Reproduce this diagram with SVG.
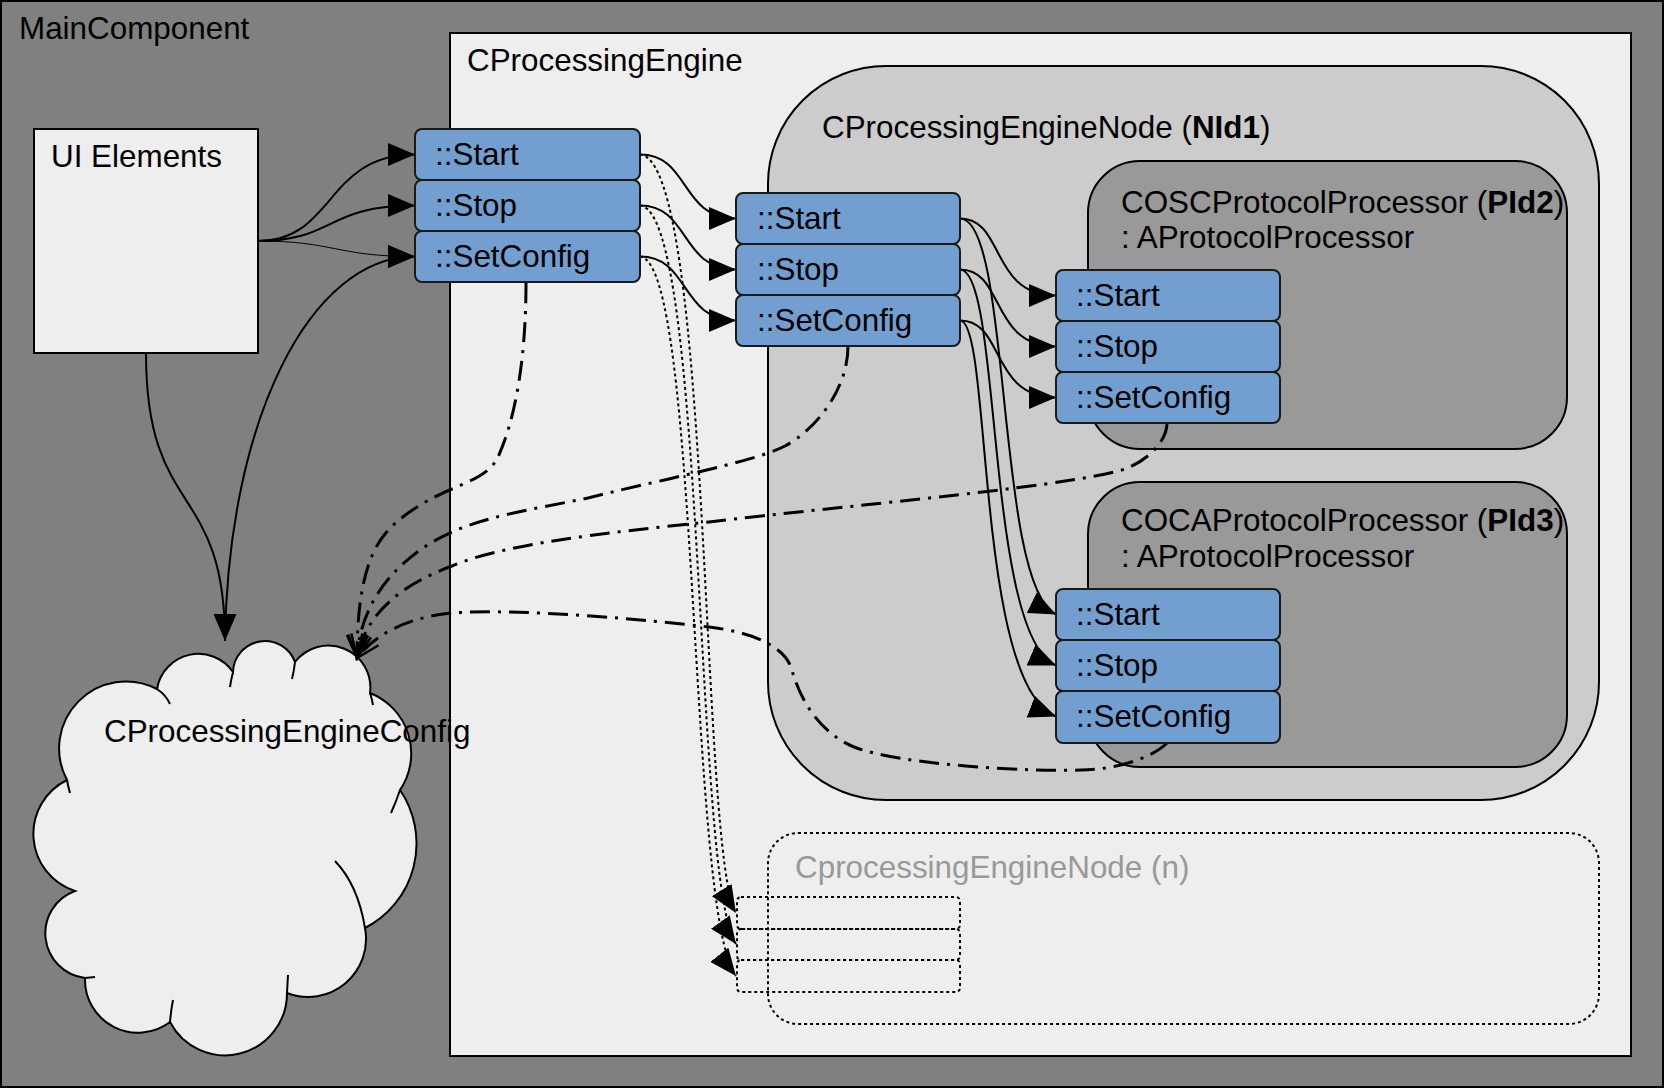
<svg xmlns="http://www.w3.org/2000/svg" width="1664" height="1089" viewBox="0 0 1664 1089">
<defs>
<style>
text { font-family: "Liberation Sans", Arial, sans-serif; font-size: 31.4px; fill: #000; }
.port { fill: #729fcf; stroke: #1a1a1a; stroke-width: 2; }
.box { stroke: #000; stroke-width: 2; }
.solid { fill: none; stroke: #000; stroke-width: 2; }
.thin { fill: none; stroke: #000; stroke-width: 1; }
.dotted { fill: none; stroke: #000; stroke-width: 2; stroke-dasharray: 3 3; }
.dashdot { fill: none; stroke: #000; stroke-width: 3; stroke-dasharray: 20 8 3 8; }
.dport { fill: none; stroke: #000; stroke-width: 2; stroke-dasharray: 3 3; }
</style>
<marker id="arr" markerUnits="userSpaceOnUse" markerWidth="27" markerHeight="23" refX="27" refY="11.5" orient="auto">
<path d="M0,0 L27,11.5 L0,23 Z" fill="#000"/>
</marker>
<marker id="open" markerUnits="userSpaceOnUse" markerWidth="30" markerHeight="24" refX="23" refY="10" orient="auto" overflow="visible">
<path d="M0,0 L23,10 L0,20" fill="none" stroke="#000" stroke-width="2.5"/>
</marker>
</defs>

<g id="MainComponent">
<rect x="1" y="1" width="1662" height="1086" fill="#808080" class="box"/>
<text x="19" y="39">MainComponent</text>
</g>

<g id="CProcessingEngine">
<rect x="450" y="33" width="1181" height="1023" fill="#eeeeee" class="box"/>
<text x="467" y="71">CProcessingEngine</text>
</g>

<g id="UIElements">
<rect x="34" y="129" width="224" height="224" fill="#eeeeee" class="box"/>
<text x="51" y="167">UI Elements</text>
</g>

<g id="CProcessingEngineConfig">
<path d="M67,780 A67,67 0 0 1 157,689 A42,42 0 0 1 233,672 A32,32 0 0 1 295,662 A42,42 0 0 1 370,693 A65,65 0 0 1 400,790 A95,95 0 0 1 365,928 A58,58 0 0 1 287,993 A62,62 0 0 1 170,1022 A53,53 0 0 1 85,978 A45,45 0 0 1 75,891 A60,60 0 0 1 67,780 Z" fill="#eeeeee" stroke="#000" stroke-width="2"/>
<path d="M157,689 Q166,695 170,704 M233,672 Q231,680 230,687 M295,662 Q294,671 292,679 M370,693 Q372,699 373,705 M400,790 Q396,802 391,813 M335,861 Q358,885 365,928 M288,975 L287,993 M170,1022 Q171,1010 173,1000 M85,978 L95,977 M70,793 Q68,786 67,780" fill="none" stroke="#000" stroke-width="2"/>
<text x="104" y="742">CProcessingEngineConfig</text>
</g>

<g id="NId1">
<rect x="768" y="66" width="831" height="734" rx="118" ry="118" fill="#cccccc" class="box"/>
<text x="822" y="138">CProcessingEngineNode (<tspan font-weight="bold">NId1</tspan>)</text>
</g>

<g id="PId2">
<rect x="1088" y="161" width="479" height="288" rx="52" ry="52" fill="#999999" class="box"/>
<text x="1121" y="213">COSCProtocolProcessor (<tspan font-weight="bold">PId2</tspan>)</text>
<text x="1121" y="248">: AProtocolProcessor</text>
</g>

<g id="PId3">
<rect x="1088" y="482" width="479" height="285" rx="52" ry="52" fill="#999999" class="box"/>
<text x="1121" y="531">COCAProtocolProcessor (<tspan font-weight="bold">PId3</tspan>)</text>
<text x="1121" y="567">: AProtocolProcessor</text>
</g>

<g id="NodeN">
<rect x="768" y="833" width="831" height="191" rx="30" ry="30" class="dport"/>
<text x="795" y="878" style="fill:#999999">CprocessingEngineNode (n)</text>
<rect x="737" y="897" width="223" height="32" rx="4" class="dport"/>
<rect x="737" y="929" width="223" height="31" rx="4" class="dport"/>
<rect x="737" y="960" width="223" height="32" rx="4" class="dport"/>
</g>

<g id="connectors">
<path class="solid" d="M258,241 C335,241 325,154.5 415,154.5" marker-end="url(#arr)"/>
<path class="solid" d="M258,241 C335,241 325,205.5 415,205.5" marker-end="url(#arr)"/>
<path class="thin" d="M258,241 C335,241 335,256.5 415,256.5" marker-end="url(#arr)"/>
<path class="solid" d="M146,353 C146,520 225,480 225,641" marker-end="url(#arr)"/>
<path class="solid" d="M225,641 C228,420 310,256.5 415,256.5" marker-end="url(#arr)"/>

<path class="solid" d="M640,154.5 C690,154.5 680,218.5 736,218.5" marker-end="url(#arr)"/>
<path class="solid" d="M640,205.5 C690,205.5 680,269.5 736,269.5" marker-end="url(#arr)"/>
<path class="solid" d="M640,256.5 C690,256.5 680,320.5 736,320.5" marker-end="url(#arr)"/>

<path class="solid" d="M960,218.5 C1005,218.5 990,295.5 1056,295.5" marker-end="url(#arr)"/>
<path class="solid" d="M960,269.5 C1005,269.5 990,346.5 1056,346.5" marker-end="url(#arr)"/>
<path class="solid" d="M960,320.5 C1005,320.5 990,397.5 1056,397.5" marker-end="url(#arr)"/>

<path class="solid" d="M960,218.5 C1012,218.5 995,585 1056,614.5" marker-end="url(#arr)"/>
<path class="solid" d="M960,269.5 C1002,269.5 985,635 1056,665.5" marker-end="url(#arr)"/>
<path class="solid" d="M960,320.5 C992,320.5 975,685 1056,716.5" marker-end="url(#arr)"/>

<path class="dotted" d="M640,154.5 C712,160 700,855 736,913" marker-end="url(#arr)"/>
<path class="dotted" d="M640,205.5 C706,210 694,885 736,944" marker-end="url(#arr)"/>
<path class="dotted" d="M640,256.5 C700,262 688,915 736,976" marker-end="url(#arr)"/>

<path class="dashdot" d="M526,283 C526,360 515,420 498,457 C490,474 470,481 452,489 C430,498 400,515 385,534 C365,558 357,600 357,658" marker-end="url(#open)"/>
<path class="dashdot" d="M848,346 C848,390 815,430 785,446 C755,462 650,482 588,498 C540,508 490,515 452,532 C400,555 360,600 357,658" marker-end="url(#open)"/>
<path class="dashdot" d="M1167,423 C1167,440 1150,458 1130,467 C1090,485 850,505 709,522 C600,533 500,545 452,566 C400,585 365,615 357,658" marker-end="url(#open)"/>
<path class="dashdot" d="M1167,743 C1150,760 1110,770 1081,770 C1030,772 900,765 854,747 C820,733 800,700 792,670 C785,645 750,632 709,627 C650,620 520,608 452,613 C400,618 370,640 357,658" marker-end="url(#open)"/>
</g>

<g id="ports-engine">
<g id="E-Start"><rect class="port" x="415" y="129" width="225" height="51" rx="7"/><text x="435" y="165">::Start</text></g>
<g id="E-Stop"><rect class="port" x="415" y="180" width="225" height="51" rx="7"/><text x="435" y="216">::Stop</text></g>
<g id="E-SetConfig"><rect class="port" x="415" y="231" width="225" height="51" rx="7"/><text x="435" y="267">::SetConfig</text></g>
</g>
<g id="ports-NId1">
<g id="N-Start"><rect class="port" x="736" y="193" width="224" height="51" rx="7"/><text x="757" y="229">::Start</text></g>
<g id="N-Stop"><rect class="port" x="736" y="244" width="224" height="51" rx="7"/><text x="757" y="280">::Stop</text></g>
<g id="N-SetConfig"><rect class="port" x="736" y="295" width="224" height="51" rx="7"/><text x="757" y="331">::SetConfig</text></g>
</g>
<g id="ports-PId2">
<g id="P2-Start"><rect class="port" x="1056" y="270" width="224" height="51" rx="7"/><text x="1076" y="306">::Start</text></g>
<g id="P2-Stop"><rect class="port" x="1056" y="321" width="224" height="51" rx="7"/><text x="1076" y="357">::Stop</text></g>
<g id="P2-SetConfig"><rect class="port" x="1056" y="372" width="224" height="51" rx="7"/><text x="1076" y="408">::SetConfig</text></g>
</g>
<g id="ports-PId3">
<g id="P3-Start"><rect class="port" x="1056" y="589" width="224" height="51" rx="7"/><text x="1076" y="625">::Start</text></g>
<g id="P3-Stop"><rect class="port" x="1056" y="640" width="224" height="51" rx="7"/><text x="1076" y="676">::Stop</text></g>
<g id="P3-SetConfig"><rect class="port" x="1056" y="691" width="224" height="52" rx="7"/><text x="1076" y="727">::SetConfig</text></g>
</g>
</svg>
